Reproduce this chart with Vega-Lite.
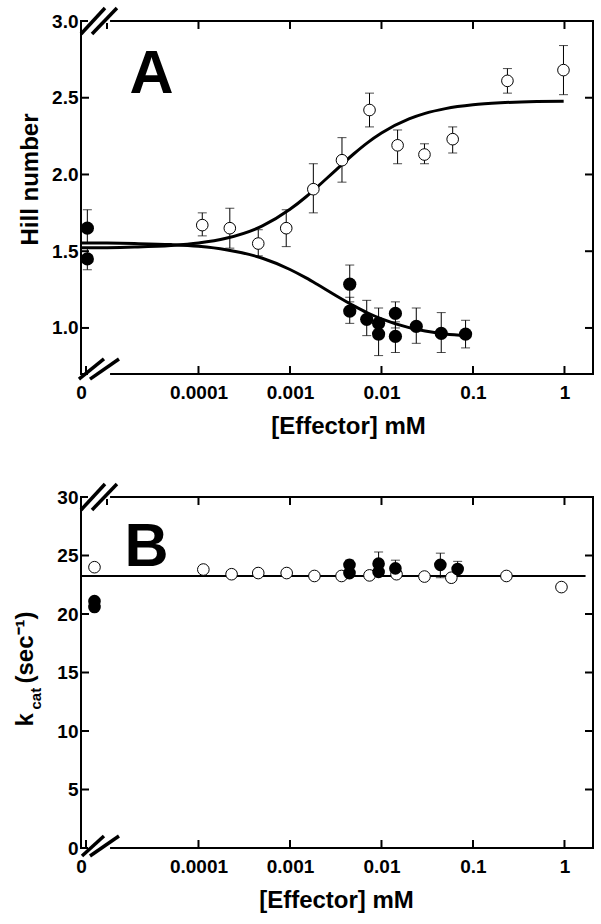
{
  "$schema": "https://vega.github.io/schema/vega-lite/v6.json",
  "padding": {"left": 12, "top": 5, "right": 0, "bottom": 0},
  "bounds": "flush",
  "spacing": 123,
  "config": {
    "view": {"stroke": "black", "strokeWidth": 2},
    "font": "Liberation Sans",
    "axis": {
      "grid": false,
      "labelFont": "Liberation Sans",
      "labelFontSize": 19,
      "labelFontWeight": "bold",
      "labelColor": "black",
      "labelFlush": false,
      "labelOverlap": false,
      "titleFont": "Liberation Sans",
      "titleFontSize": 24,
      "titleFontWeight": "bold",
      "titleColor": "black"
    }
  },
  "datasets": {
    "hillPts": [
      {"x": 6.1e-6, "y": 1.65, "lo": 1.55, "hi": 1.77, "type": "filled"},
      {"x": 6.1e-6, "y": 1.45, "lo": 1.38, "hi": 1.52, "type": "filled"},
      {"x": 0.0045, "y": 1.285, "lo": 1.17, "hi": 1.41, "type": "filled"},
      {"x": 0.0045, "y": 1.11, "lo": 1.03, "hi": 1.2, "type": "filled"},
      {"x": 0.0069, "y": 1.056, "lo": 0.95, "hi": 1.18, "type": "filled"},
      {"x": 0.0093, "y": 1.03, "lo": 0.93, "hi": 1.13, "type": "filled"},
      {"x": 0.0093, "y": 0.96, "lo": 0.82, "hi": 1.06, "type": "filled"},
      {"x": 0.0142, "y": 1.095, "lo": 1.0, "hi": 1.17, "type": "filled"},
      {"x": 0.0142, "y": 0.945, "lo": 0.84, "hi": 1.04, "type": "filled"},
      {"x": 0.024, "y": 1.01, "lo": 0.9, "hi": 1.13, "type": "filled"},
      {"x": 0.045, "y": 0.965, "lo": 0.84, "hi": 1.1, "type": "filled"},
      {"x": 0.083, "y": 0.96, "lo": 0.87, "hi": 1.05, "type": "filled"},
      {"x": 0.00011, "y": 1.67, "lo": 1.6, "hi": 1.75, "type": "open"},
      {"x": 0.00022, "y": 1.65, "lo": 1.52, "hi": 1.78, "type": "open"},
      {"x": 0.00045, "y": 1.55, "lo": 1.47, "hi": 1.64, "type": "open"},
      {"x": 0.00091, "y": 1.65, "lo": 1.53, "hi": 1.77, "type": "open"},
      {"x": 0.0018, "y": 1.904, "lo": 1.75, "hi": 2.07, "type": "open"},
      {"x": 0.0037, "y": 2.093, "lo": 1.95, "hi": 2.24, "type": "open"},
      {"x": 0.0074, "y": 2.42, "lo": 2.31, "hi": 2.53, "type": "open"},
      {"x": 0.015, "y": 2.19, "lo": 2.07, "hi": 2.29, "type": "open"},
      {"x": 0.0295, "y": 2.13, "lo": 2.07, "hi": 2.2, "type": "open"},
      {"x": 0.06, "y": 2.23, "lo": 2.14, "hi": 2.31, "type": "open"},
      {"x": 0.238, "y": 2.61, "lo": 2.53, "hi": 2.69, "type": "open"},
      {"x": 0.975, "y": 2.68, "lo": 2.52, "hi": 2.84, "type": "open"}
    ],
    "hillCurve": [
      {"x": 5.3e-6, "y": 1.522, "curve": "up"},
      {"x": 1e-5, "y": 1.523, "curve": "up"},
      {"x": 2e-5, "y": 1.527, "curve": "up"},
      {"x": 5e-5, "y": 1.537, "curve": "up"},
      {"x": 0.0001, "y": 1.553, "curve": "up"},
      {"x": 0.0002, "y": 1.584, "curve": "up"},
      {"x": 0.0005, "y": 1.665, "curve": "up"},
      {"x": 0.001, "y": 1.773, "curve": "up"},
      {"x": 0.0015, "y": 1.855, "curve": "up"},
      {"x": 0.002, "y": 1.92, "curve": "up"},
      {"x": 0.003, "y": 2.016, "curve": "up"},
      {"x": 0.005, "y": 2.135, "curve": "up"},
      {"x": 0.007, "y": 2.206, "curve": "up"},
      {"x": 0.01, "y": 2.27, "curve": "up"},
      {"x": 0.02, "y": 2.362, "curve": "up"},
      {"x": 0.03, "y": 2.398, "curve": "up"},
      {"x": 0.05, "y": 2.429, "curve": "up"},
      {"x": 0.1, "y": 2.454, "curve": "up"},
      {"x": 0.2, "y": 2.467, "curve": "up"},
      {"x": 0.5, "y": 2.475, "curve": "up"},
      {"x": 0.98, "y": 2.477, "curve": "up"},
      {"x": 5.3e-6, "y": 1.554, "curve": "down"},
      {"x": 1e-5, "y": 1.553, "curve": "down"},
      {"x": 2e-5, "y": 1.55, "curve": "down"},
      {"x": 5e-5, "y": 1.543, "curve": "down"},
      {"x": 0.0001, "y": 1.532, "curve": "down"},
      {"x": 0.0002, "y": 1.51, "curve": "down"},
      {"x": 0.0005, "y": 1.454, "curve": "down"},
      {"x": 0.001, "y": 1.381, "curve": "down"},
      {"x": 0.0015, "y": 1.326, "curve": "down"},
      {"x": 0.002, "y": 1.283, "curve": "down"},
      {"x": 0.003, "y": 1.22, "curve": "down"},
      {"x": 0.005, "y": 1.144, "curve": "down"},
      {"x": 0.007, "y": 1.099, "curve": "down"},
      {"x": 0.01, "y": 1.059, "curve": "down"},
      {"x": 0.02, "y": 1.002, "curve": "down"},
      {"x": 0.03, "y": 0.98, "curve": "down"},
      {"x": 0.05, "y": 0.961, "curve": "down"},
      {"x": 0.085, "y": 0.949, "curve": "down"}
    ],
    "hillLabels": [
      {"x": 3.06e-5, "y": 2.53, "text": "A"}
    ],
    "hillGaps": [
      {"x": 6.2e-6, "x2": 1.08e-5, "y": 3.0},
      {"x": 6.2e-6, "x2": 1.08e-5, "y": 0.7}
    ],
    "hillSlashes": [
      {"x": 5.2e-6, "x2": 9.51e-6, "y": 2.915, "y2": 3.085},
      {"x": 6.86e-6, "x2": 1.285e-5, "y": 2.915, "y2": 3.085},
      {"x": 4.94e-6, "x2": 9.27e-6, "y": 0.667, "y2": 0.798},
      {"x": 6.52e-6, "x2": 1.352e-5, "y": 0.667, "y2": 0.798}
    ],
    "hillFrameTicks": [
      {"x": 5.9e-6, "x2": 5.9e-6, "y": 0.7, "y2": 0.752},
      {"x": 0.0001, "x2": 0.0001, "y": 0.7, "y2": 0.752},
      {"x": 0.001, "x2": 0.001, "y": 0.7, "y2": 0.752},
      {"x": 0.01, "x2": 0.01, "y": 0.7, "y2": 0.752},
      {"x": 0.1, "x2": 0.1, "y": 0.7, "y2": 0.752},
      {"x": 1, "x2": 1, "y": 0.7, "y2": 0.752},
      {"x": 1e-5, "x2": 1e-5, "y": 3.0, "y2": 2.948},
      {"x": 0.0001, "x2": 0.0001, "y": 3.0, "y2": 2.948},
      {"x": 0.001, "x2": 0.001, "y": 3.0, "y2": 2.948},
      {"x": 0.01, "x2": 0.01, "y": 3.0, "y2": 2.948},
      {"x": 0.1, "x2": 0.1, "y": 3.0, "y2": 2.948},
      {"x": 1, "x2": 1, "y": 3.0, "y2": 2.948},
      {"x": 5.2e-6, "x2": 6.36e-6, "y": 1.0, "y2": 1.0},
      {"x": 5.2e-6, "x2": 6.36e-6, "y": 1.5, "y2": 1.5},
      {"x": 5.2e-6, "x2": 6.36e-6, "y": 2.0, "y2": 2.0},
      {"x": 5.2e-6, "x2": 6.36e-6, "y": 2.5, "y2": 2.5},
      {"x": 1.676, "x2": 2.05, "y": 1.0, "y2": 1.0},
      {"x": 1.676, "x2": 2.05, "y": 1.5, "y2": 1.5},
      {"x": 1.676, "x2": 2.05, "y": 2.0, "y2": 2.0},
      {"x": 1.676, "x2": 2.05, "y": 2.5, "y2": 2.5}
    ],
    "kcatPts": [
      {"x": 7.3e-6, "y": 24.0, "type": "open"},
      {"x": 0.000113, "y": 23.8, "type": "open"},
      {"x": 0.00023, "y": 23.4, "type": "open"},
      {"x": 0.00045, "y": 23.5, "type": "open"},
      {"x": 0.00092, "y": 23.5, "type": "open"},
      {"x": 0.00185, "y": 23.25, "type": "open"},
      {"x": 0.00366, "y": 23.25, "type": "open"},
      {"x": 0.0074, "y": 23.3, "type": "open"},
      {"x": 0.0146, "y": 23.4, "type": "open"},
      {"x": 0.0295, "y": 23.2, "type": "open"},
      {"x": 0.058, "y": 23.1, "type": "open"},
      {"x": 0.232, "y": 23.25, "type": "open"},
      {"x": 0.927, "y": 22.3, "type": "open"},
      {"x": 7.3e-6, "y": 21.1, "type": "filled"},
      {"x": 7.3e-6, "y": 20.6, "type": "filled"},
      {"x": 0.00447, "y": 24.2, "lo": 23.8, "hi": 24.6, "type": "filled"},
      {"x": 0.00447, "y": 23.5, "type": "filled"},
      {"x": 0.0093, "y": 24.3, "lo": 23.3, "hi": 25.3, "type": "filled"},
      {"x": 0.0093, "y": 23.6, "type": "filled"},
      {"x": 0.0142, "y": 23.9, "lo": 23.3, "hi": 24.6, "type": "filled"},
      {"x": 0.044, "y": 24.2, "lo": 23.1, "hi": 25.2, "type": "filled"},
      {"x": 0.068, "y": 23.85, "lo": 23.2, "hi": 24.5, "type": "filled"}
    ],
    "kcatLine": [
      {"x": 5.3e-6, "y": 23.25},
      {"x": 1.7, "y": 23.25}
    ],
    "kcatLabels": [
      {"x": 2.7e-5, "y": 24.1, "text": "B"}
    ],
    "kcatGaps": [
      {"x": 6.2e-6, "x2": 1.08e-5, "y": 30},
      {"x": 6.2e-6, "x2": 1.08e-5, "y": 0}
    ],
    "kcatSlashes": [
      {"x": 5.2e-6, "x2": 9.51e-6, "y": 28.89, "y2": 31.11},
      {"x": 6.86e-6, "x2": 1.285e-5, "y": 28.89, "y2": 31.11},
      {"x": 5.33e-6, "x2": 9.27e-6, "y": -0.68, "y2": 1.03},
      {"x": 6.52e-6, "x2": 1.352e-5, "y": -0.68, "y2": 1.03}
    ],
    "kcatFrameTicks": [
      {"x": 5.9e-6, "x2": 5.9e-6, "y": 0, "y2": 0.684},
      {"x": 0.0001, "x2": 0.0001, "y": 0, "y2": 0.684},
      {"x": 0.001, "x2": 0.001, "y": 0, "y2": 0.684},
      {"x": 0.01, "x2": 0.01, "y": 0, "y2": 0.684},
      {"x": 0.1, "x2": 0.1, "y": 0, "y2": 0.684},
      {"x": 1, "x2": 1, "y": 0, "y2": 0.684},
      {"x": 1e-5, "x2": 1e-5, "y": 30, "y2": 29.316},
      {"x": 0.0001, "x2": 0.0001, "y": 30, "y2": 29.316},
      {"x": 0.001, "x2": 0.001, "y": 30, "y2": 29.316},
      {"x": 0.01, "x2": 0.01, "y": 30, "y2": 29.316},
      {"x": 0.1, "x2": 0.1, "y": 30, "y2": 29.316},
      {"x": 1, "x2": 1, "y": 30, "y2": 29.316},
      {"x": 5.2e-6, "x2": 6.36e-6, "y": 5, "y2": 5},
      {"x": 5.2e-6, "x2": 6.36e-6, "y": 10, "y2": 10},
      {"x": 5.2e-6, "x2": 6.36e-6, "y": 15, "y2": 15},
      {"x": 5.2e-6, "x2": 6.36e-6, "y": 20, "y2": 20},
      {"x": 5.2e-6, "x2": 6.36e-6, "y": 25, "y2": 25},
      {"x": 1.676, "x2": 2.05, "y": 5, "y2": 5},
      {"x": 1.676, "x2": 2.05, "y": 10, "y2": 10},
      {"x": 1.676, "x2": 2.05, "y": 15, "y2": 15},
      {"x": 1.676, "x2": 2.05, "y": 20, "y2": 20},
      {"x": 1.676, "x2": 2.05, "y": 25, "y2": 25}
    ]
  },
  "vconcat": [
    {
      "width": 512,
      "height": 353,
      "layer": [
        {
          "data": {"name": "hillCurve"},
          "mark": {"type": "line", "color": "black", "strokeWidth": 3, "interpolate": "monotone"},
          "encoding": {
            "x": {"field": "x", "type": "quantitative", "scale": {"type": "log", "domain": [5.2e-6, 2.05], "nice": false},
              "axis": {"orient": "bottom", "values": [5.2e-6, 0.0001, 0.001, 0.01, 0.1, 1], "ticks": false, "domain": false,
                "labelExpr": "datum.value < 0.00001 ? '0' : format(datum.value, '.4~f')",
                "labelPadding": 9, "title": "[Effector] mM", "titleX": 267, "titleY": 59,
                "titleAlign": "center", "titleBaseline": "alphabetic"}},
            "y": {"field": "y", "type": "quantitative", "scale": {"domain": [0.7, 3.0], "nice": false},
              "axis": {"orient": "left", "values": [1.0, 1.5, 2.0, 2.5, 3.0], "format": ".1f", "ticks": false, "domain": false,
                "labelPadding": 3, "title": "Hill number", "titleX": -44, "titleY": 158,
                "titleAlign": "center", "titleBaseline": "alphabetic", "titleAngle": -90}},
            "detail": {"field": "curve"}
          }
        },
        {
          "data": {"name": "hillFrameTicks"},
          "mark": {"type": "rule", "color": "black", "strokeWidth": 2},
          "encoding": {
            "x": {"field": "x", "type": "quantitative", "axis": null},
            "x2": {"field": "x2"},
            "y": {"field": "y", "type": "quantitative", "axis": null},
            "y2": {"field": "y2"}
          }
        },
        {
          "data": {"name": "hillPts"},
          "mark": {"type": "rule", "color": "black", "strokeWidth": 1},
          "encoding": {
            "x": {"field": "x", "type": "quantitative", "axis": null},
            "y": {"field": "lo", "type": "quantitative", "axis": null},
            "y2": {"field": "hi"}
          }
        },
        {
          "data": {"name": "hillPts"},
          "mark": {"type": "tick", "orient": "horizontal", "color": "black", "size": 9, "thickness": 1},
          "encoding": {
            "x": {"field": "x", "type": "quantitative", "axis": null},
            "y": {"field": "lo", "type": "quantitative", "axis": null}
          }
        },
        {
          "data": {"name": "hillPts"},
          "mark": {"type": "tick", "orient": "horizontal", "color": "black", "size": 9, "thickness": 1},
          "encoding": {
            "x": {"field": "x", "type": "quantitative", "axis": null},
            "y": {"field": "hi", "type": "quantitative", "axis": null}
          }
        },
        {
          "data": {"name": "hillPts"},
          "transform": [{"filter": "datum.type === 'open'"}],
          "mark": {"type": "point", "shape": "circle", "filled": true, "fill": "white", "stroke": "black", "strokeWidth": 1, "size": 135, "opacity": 1},
          "encoding": {
            "x": {"field": "x", "type": "quantitative", "axis": null},
            "y": {"field": "y", "type": "quantitative", "axis": null}
          }
        },
        {
          "data": {"name": "hillPts"},
          "transform": [{"filter": "datum.type === 'filled'"}],
          "mark": {"type": "point", "shape": "circle", "filled": true, "fill": "black", "strokeWidth": 0, "size": 175, "opacity": 1},
          "encoding": {
            "x": {"field": "x", "type": "quantitative", "axis": null},
            "y": {"field": "y", "type": "quantitative", "axis": null}
          }
        },
        {
          "data": {"name": "hillLabels"},
          "mark": {"type": "text", "font": "Liberation Sans", "fontWeight": "bold", "fontSize": 61, "align": "center", "baseline": "alphabetic", "color": "black"},
          "encoding": {
            "x": {"field": "x", "type": "quantitative", "axis": null},
            "y": {"field": "y", "type": "quantitative", "axis": null},
            "text": {"field": "text"}
          }
        },
        {
          "data": {"name": "hillGaps"},
          "mark": {"type": "rule", "color": "white", "strokeWidth": 4},
          "encoding": {
            "x": {"field": "x", "type": "quantitative", "axis": null},
            "x2": {"field": "x2"},
            "y": {"field": "y", "type": "quantitative", "axis": null}
          }
        },
        {
          "data": {"name": "hillSlashes"},
          "mark": {"type": "rule", "color": "black", "strokeWidth": 3.5},
          "encoding": {
            "x": {"field": "x", "type": "quantitative", "axis": null},
            "x2": {"field": "x2"},
            "y": {"field": "y", "type": "quantitative", "axis": null},
            "y2": {"field": "y2"}
          }
        }
      ],
      "resolve": {"axis": {"x": "independent", "y": "independent"}}
    },
    {
      "width": 512,
      "height": 351,
      "layer": [
        {
          "data": {"name": "kcatLine"},
          "mark": {"type": "line", "color": "black", "strokeWidth": 2},
          "encoding": {
            "x": {"field": "x", "type": "quantitative", "scale": {"type": "log", "domain": [5.2e-6, 2.05], "nice": false},
              "axis": {"orient": "bottom", "values": [5.2e-6, 0.0001, 0.001, 0.01, 0.1, 1], "ticks": false, "domain": false,
                "labelExpr": "datum.value < 0.00001 ? '0' : format(datum.value, '.4~f')",
                "labelPadding": 9, "title": "[Effector] mM", "titleX": 255, "titleY": 59,
                "titleAlign": "center", "titleBaseline": "alphabetic"}},
            "y": {"field": "y", "type": "quantitative", "scale": {"domain": [0, 30], "nice": false},
              "axis": {"orient": "left", "values": [0, 5, 10, 15, 20, 25, 30], "ticks": false, "domain": false,
                "labelPadding": 3, "title": "k", "titleX": -49, "titleY": 229,
                "titleAlign": "left", "titleBaseline": "alphabetic", "titleAngle": -90}}
          }
        },
        {
          "data": {"name": "kcatFrameTicks"},
          "mark": {"type": "rule", "color": "black", "strokeWidth": 2},
          "encoding": {
            "x": {"field": "x", "type": "quantitative", "axis": null},
            "x2": {"field": "x2"},
            "y": {"field": "y", "type": "quantitative", "axis": null},
            "y2": {"field": "y2"}
          }
        },
        {
          "data": {"name": "kcatPts"},
          "transform": [{"filter": "isValid(datum.lo)"}],
          "mark": {"type": "rule", "color": "black", "strokeWidth": 1},
          "encoding": {
            "x": {"field": "x", "type": "quantitative", "axis": null},
            "y": {"field": "lo", "type": "quantitative", "axis": null},
            "y2": {"field": "hi"}
          }
        },
        {
          "data": {"name": "kcatPts"},
          "transform": [{"filter": "isValid(datum.lo)"}],
          "mark": {"type": "tick", "orient": "horizontal", "color": "black", "size": 9, "thickness": 1},
          "encoding": {
            "x": {"field": "x", "type": "quantitative", "axis": null},
            "y": {"field": "lo", "type": "quantitative", "axis": null}
          }
        },
        {
          "data": {"name": "kcatPts"},
          "transform": [{"filter": "isValid(datum.hi)"}],
          "mark": {"type": "tick", "orient": "horizontal", "color": "black", "size": 9, "thickness": 1},
          "encoding": {
            "x": {"field": "x", "type": "quantitative", "axis": null},
            "y": {"field": "hi", "type": "quantitative", "axis": null}
          }
        },
        {
          "data": {"name": "kcatPts"},
          "transform": [{"filter": "datum.type === 'open'"}],
          "mark": {"type": "point", "shape": "circle", "filled": true, "fill": "white", "stroke": "black", "strokeWidth": 1, "size": 135, "opacity": 1},
          "encoding": {
            "x": {"field": "x", "type": "quantitative", "axis": null},
            "y": {"field": "y", "type": "quantitative",
              "axis": {"orient": "left", "domain": false, "ticks": false, "labels": false,
                "title": "cat", "titleFontSize": 15, "titleX": -41, "titleY": 212,
                "titleAlign": "left", "titleBaseline": "alphabetic", "titleAngle": -90}}
          }
        },
        {
          "data": {"name": "kcatPts"},
          "transform": [{"filter": "datum.type === 'filled'"}],
          "mark": {"type": "point", "shape": "circle", "filled": true, "fill": "black", "strokeWidth": 0, "size": 160, "opacity": 1},
          "encoding": {
            "x": {"field": "x", "type": "quantitative", "axis": null},
            "y": {"field": "y", "type": "quantitative",
              "axis": {"orient": "left", "domain": false, "ticks": false, "labels": false,
                "title": "(sec⁻¹)", "titleX": -49, "titleY": 186,
                "titleAlign": "left", "titleBaseline": "alphabetic", "titleAngle": -90}}
          }
        },
        {
          "data": {"name": "kcatLabels"},
          "mark": {"type": "text", "font": "Liberation Sans", "fontWeight": "bold", "fontSize": 61, "align": "center", "baseline": "alphabetic", "color": "black"},
          "encoding": {
            "x": {"field": "x", "type": "quantitative", "axis": null},
            "y": {"field": "y", "type": "quantitative", "axis": null},
            "text": {"field": "text"}
          }
        },
        {
          "data": {"name": "kcatGaps"},
          "mark": {"type": "rule", "color": "white", "strokeWidth": 4},
          "encoding": {
            "x": {"field": "x", "type": "quantitative", "axis": null},
            "x2": {"field": "x2"},
            "y": {"field": "y", "type": "quantitative", "axis": null}
          }
        },
        {
          "data": {"name": "kcatSlashes"},
          "mark": {"type": "rule", "color": "black", "strokeWidth": 3.5},
          "encoding": {
            "x": {"field": "x", "type": "quantitative", "axis": null},
            "x2": {"field": "x2"},
            "y": {"field": "y", "type": "quantitative", "axis": null},
            "y2": {"field": "y2"}
          }
        }
      ],
      "resolve": {"axis": {"x": "independent", "y": "independent"}}
    }
  ]
}
